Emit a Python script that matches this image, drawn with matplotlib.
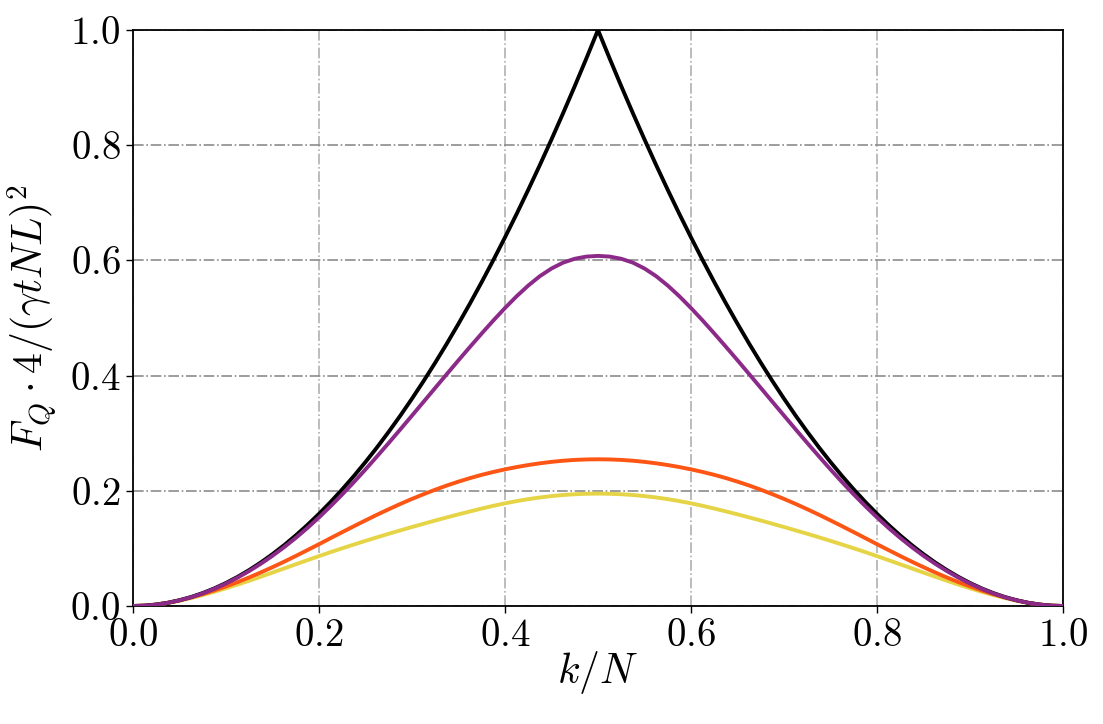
import numpy as np
import matplotlib
matplotlib.use('Agg')
from matplotlib import pyplot as plt
from matplotlib.ticker import FuncFormatter

plt.rcParams['mathtext.fontset'] = 'cm'
plt.rcParams['font.family'] = 'serif'
plt.rcParams['font.serif'] = ['cmr10', 'DejaVu Serif']

# k/N sample positions (step 1/80)
k_over_n = np.linspace(0.0, 1.0, 81)

# values
black = [0.0, 0.0006, 0.0025, 0.0056, 0.0100, 0.0156, 0.0225, 0.0306, 0.0400, 0.0506,
         0.0625, 0.0756, 0.0900, 0.1056, 0.1225, 0.1406, 0.1600, 0.1806, 0.2025, 0.2256,
         0.2500, 0.2756, 0.3025, 0.3306, 0.3600, 0.3906, 0.4225, 0.4556, 0.4900, 0.5256,
         0.5625, 0.6006, 0.6400, 0.6806, 0.7225, 0.7656, 0.8100, 0.8556, 0.9025, 0.9506,
         1.0000,
         0.9506, 0.9025, 0.8556, 0.8100, 0.7656, 0.7225, 0.6806, 0.6400, 0.6006, 0.5625,
         0.5256, 0.4900, 0.4556, 0.4225, 0.3906, 0.3600, 0.3306, 0.3025, 0.2756, 0.2500,
         0.2256, 0.2025, 0.1806, 0.1600, 0.1406, 0.1225, 0.1056, 0.0900, 0.0756, 0.0625,
         0.0506, 0.0400, 0.0306, 0.0225, 0.0156, 0.0100, 0.0056, 0.0025, 0.0006, 0.0]

purple = [0.0, 0.0006, 0.0024, 0.0055, 0.0098, 0.0152, 0.0219, 0.0299, 0.0390, 0.0493,
          0.0608, 0.0734, 0.0872, 0.1021, 0.1182, 0.1354, 0.1538, 0.1733, 0.1937, 0.2150,
          0.2371, 0.2599, 0.2831, 0.3067, 0.3306, 0.3546, 0.3787, 0.4027, 0.4266, 0.4501,
          0.4732, 0.4957, 0.5173, 0.5377, 0.5563, 0.5726, 0.5859, 0.5961, 0.6028, 0.6066,
          0.6078,
          0.6066, 0.6028, 0.5961, 0.5859, 0.5726, 0.5563, 0.5377, 0.5173, 0.4957, 0.4732,
          0.4501, 0.4266, 0.4027, 0.3787, 0.3546, 0.3306, 0.3067, 0.2831, 0.2599, 0.2371,
          0.2150, 0.1937, 0.1733, 0.1538, 0.1354, 0.1182, 0.1021, 0.0872, 0.0734, 0.0608,
          0.0493, 0.0390, 0.0299, 0.0219, 0.0152, 0.0098, 0.0055, 0.0024, 0.0006, 0.0]

orange = [0.0, 0.0006, 0.0025, 0.0056, 0.0098, 0.0148, 0.0206, 0.0270, 0.0340, 0.0415,
          0.0496, 0.0583, 0.0674, 0.0769, 0.0868, 0.0970, 0.1073, 0.1178, 0.1282, 0.1385,
          0.1486, 0.1585, 0.1680, 0.1772, 0.1859, 0.1941, 0.2019, 0.2092, 0.2159, 0.2221,
          0.2277, 0.2327, 0.2372, 0.2412, 0.2447, 0.2477, 0.2502, 0.2522, 0.2536, 0.2544,
          0.2547,
          0.2544, 0.2536, 0.2522, 0.2502, 0.2477, 0.2447, 0.2412, 0.2372, 0.2327, 0.2277,
          0.2221, 0.2159, 0.2092, 0.2019, 0.1941, 0.1859, 0.1772, 0.1680, 0.1585, 0.1486,
          0.1385, 0.1282, 0.1178, 0.1073, 0.0970, 0.0868, 0.0769, 0.0674, 0.0583, 0.0496,
          0.0415, 0.0340, 0.0270, 0.0206, 0.0148, 0.0098, 0.0056, 0.0025, 0.0006, 0.0]

yellow = [0.0, 0.0006, 0.0024, 0.0053, 0.0091, 0.0138, 0.0190, 0.0247, 0.0308, 0.0372,
          0.0439, 0.0509, 0.0580, 0.0652, 0.0724, 0.0795, 0.0866, 0.0935, 0.1002, 0.1067,
          0.1131, 0.1193, 0.1254, 0.1313, 0.1371, 0.1428, 0.1484, 0.1538, 0.1591, 0.1642,
          0.1692, 0.1739, 0.1782, 0.1821, 0.1855, 0.1884, 0.1908, 0.1927, 0.1940, 0.1948,
          0.1951,
          0.1948, 0.1940, 0.1927, 0.1908, 0.1884, 0.1855, 0.1821, 0.1782, 0.1739, 0.1692,
          0.1642, 0.1591, 0.1538, 0.1484, 0.1428, 0.1371, 0.1313, 0.1254, 0.1193, 0.1131,
          0.1067, 0.1002, 0.0935, 0.0866, 0.0795, 0.0724, 0.0652, 0.0580, 0.0509, 0.0439,
          0.0372, 0.0308, 0.0247, 0.0190, 0.0138, 0.0091, 0.0053, 0.0024, 0.0006, 0.0]

ticks = [0.0, 0.2, 0.4, 0.6, 0.8, 1.0]

fig = plt.figure(figsize=(11.03, 7.24), dpi=100)
ax = fig.add_axes([0.1206, 0.163, 0.8431, 0.7956])

lw = 2.8
ax.plot(k_over_n, yellow, color='#e6d447', lw=lw, zorder=3)
ax.plot(k_over_n, orange, color='#fc5514', lw=lw, zorder=4)
ax.plot(k_over_n, black, color='black', lw=lw, zorder=5)
ax.plot(k_over_n, purple, color='#8b2a88', lw=lw, zorder=6)

ax.set_xlim(0, 1)
ax.set_ylim(0, 1)
ax.set_xticks(ticks)
ax.set_yticks(ticks)
fmt = FuncFormatter(lambda v, p: r'$%.1f$' % v)
ax.xaxis.set_major_formatter(fmt)
ax.yaxis.set_major_formatter(fmt)
ax.tick_params(direction='out', length=5, width=1, labelsize=28, pad=4)

ax.xaxis.grid(True, ls='-.', color='#b0b0b0', lw=1.2)
ax.yaxis.grid(True, ls='-.', color='#8c8c8c', lw=1.2)
ax.set_axisbelow(True)
for s in ax.spines.values():
    s.set_linewidth(1.3)

ax.set_xlabel(r'$k/N$', fontsize=30, labelpad=-4)
ax.set_ylabel(r'$F_Q \cdot 4/(\gamma t N L)^2$', fontsize=30, labelpad=8)

plt.savefig('out.png', dpi=100)
